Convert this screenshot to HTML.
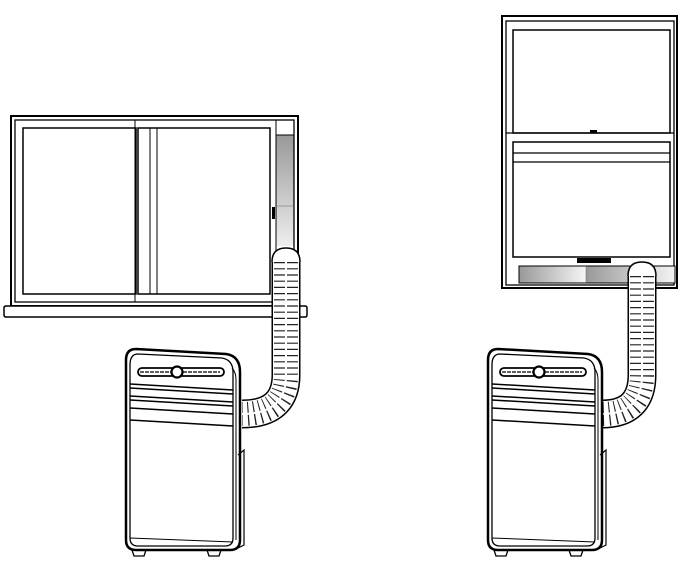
<!DOCTYPE html>
<html><head><style>html,body{margin:0;padding:0;background:#fff}svg{display:block}</style></head>
<body>
<svg width="692" height="570" viewBox="0 0 692 570" xmlns="http://www.w3.org/2000/svg">
<defs>
<linearGradient id="gv" x1="0" y1="0" x2="0" y2="1"><stop offset="0" stop-color="#999"/><stop offset="1" stop-color="#eee"/></linearGradient>
<linearGradient id="gh" x1="0" y1="0" x2="1" y2="0"><stop offset="0" stop-color="#999"/><stop offset="1" stop-color="#f4f4f4"/></linearGradient>
<g id="ac" fill="none" stroke="#000">
  <path d="M136,349 L226,354 Q240,356 240,372 L240,540 Q240,550 230,550 L136,550 Q126,550 126,540 L126,360 Q126,349 136,349 Z" stroke-width="2.5" fill="#fff"/>
  <path d="M138,354 L222,358 Q233,360 233,372 L233,538 Q233,546 225,546 L138,546 Q130,546 130,538 L130,365 Q130,354 138,354 Z" stroke-width="1.3"/>
  <path d="M232,368 Q236,372 236,380 L236,540" stroke-width="1"/>
  <rect x="138" y="368" width="86" height="8" rx="4" stroke-width="1.8"/>
  <circle cx="177" cy="372" r="5.5" stroke-width="2.2" fill="#fff"/>
  <path d="M140,372 H171 M183,372 H220" stroke-width="1.2" stroke-dasharray="4 1"/>
  <path d="M130,384 L233,390 M130,388 L233,394 M130,396 L233,402 M130,400 L233,406 M130,408 L233,414 M130,420 L233,426" stroke-width="1.5"/>
  <path d="M130,538 L233,542" stroke-width="1"/>
  <path d="M238,455 L244,450 L244,545 L238,548" stroke-width="1.2"/>
  <path d="M240,460 V540" stroke-width="2" stroke-dasharray="1 1"/>
  <path d="M132,550 L134,556 L144,556 L146,550 M207,550 L209,556 L219,556 L221,550" stroke-width="1.3"/>
</g>
</defs>

<!-- Left window -->
<g fill="none" stroke="#000">
  <rect x="276" y="135" width="18" height="111" fill="url(#gv)" stroke="none"/>
  <rect x="11" y="116" width="287" height="190" stroke-width="2"/>
  <rect x="15" y="120" width="279" height="182" stroke-width="1.3"/>
  <rect x="23" y="128" width="113" height="166" stroke-width="1.5"/>
  <line x1="135" y1="120" x2="135" y2="302" stroke-width="1"/>
  <rect x="138" y="128" width="132" height="166" stroke-width="1.5"/>
  <line x1="150" y1="128" x2="150" y2="294" stroke-width="1"/>
  <line x1="157" y1="128" x2="157" y2="294" stroke-width="1"/>
  <line x1="276" y1="120" x2="276" y2="302" stroke-width="1"/>
  <line x1="276" y1="135" x2="294" y2="135" stroke-width="1"/>
  <line x1="276" y1="206" x2="294" y2="206" stroke-width="0.6" stroke="#666"/>
  <rect x="272" y="207" width="3" height="12" fill="#000" stroke="none"/>
  <path d="M6,306 H305 Q307,306 307,308 V315 Q307,317 305,317 H6 Q4,317 4,315 V308 Q4,306 6,306 Z" stroke-width="1.5" fill="#fff"/>
</g>

<!-- Right window -->
<g fill="none" stroke="#000">
  <rect x="502" y="16" width="175" height="272" stroke-width="2"/>
  <rect x="506" y="21" width="168" height="264" stroke-width="1.3"/>
  <rect x="513" y="30" width="157" height="103" stroke-width="1.5"/>
  <line x1="506" y1="133" x2="674" y2="133" stroke-width="1.3"/>
  <rect x="590" y="130" width="7" height="3" fill="#000" stroke="none"/>
  <rect x="513" y="142" width="157" height="115" stroke-width="1.5"/>
  <line x1="513" y1="153" x2="670" y2="153" stroke-width="1.3"/>
  <line x1="513" y1="162" x2="670" y2="162" stroke-width="1.3"/>
  <rect x="577" y="258" width="34" height="5" fill="#000" stroke="none"/>
  <rect x="519" y="266" width="66" height="17" fill="url(#gh)" stroke="none"/>
  <rect x="586" y="266" width="89" height="17" fill="url(#gh)" stroke="none"/>
  <rect x="519" y="266" width="156" height="17" stroke-width="1"/>
  <line x1="586" y1="266" x2="586" y2="283" stroke-width="0.6" stroke="#666"/>
</g>

<!-- Hoses -->
<g fill="none" stroke-linecap="butt">
  <path d="M286,262 L286,375 Q286,414 242,414" stroke="#000" stroke-width="29"/>
  <path d="M286,262 L286,375 Q286,414 242,414" stroke="#fff" stroke-width="26"/>
  <path d="M286,262 L286,375 Q286,414 242,414" stroke="#222" stroke-width="24" stroke-dasharray="1.2 5"/>
  <path d="M286,262 L286,375 Q286,414 242,414" stroke="#fff" stroke-width="2"/>
  <path d="M272,262 Q272,248 286,248 Q300,248 300,262" fill="#fff" stroke="#000" stroke-width="1.5"/>

  <path d="M642,276 L642,375 Q642,414 602,414" stroke="#000" stroke-width="29"/>
  <path d="M642,276 L642,375 Q642,414 602,414" stroke="#fff" stroke-width="26"/>
  <path d="M642,276 L642,375 Q642,414 602,414" stroke="#222" stroke-width="24" stroke-dasharray="1.2 5"/>
  <path d="M642,276 L642,375 Q642,414 602,414" stroke="#fff" stroke-width="2"/>
  <path d="M628,276 Q628,262 642,262 Q656,262 656,276" fill="#fff" stroke="#000" stroke-width="1.5"/>
</g>

<use href="#ac"/>
<use href="#ac" transform="translate(362,0)"/>
</svg>
</body></html>
